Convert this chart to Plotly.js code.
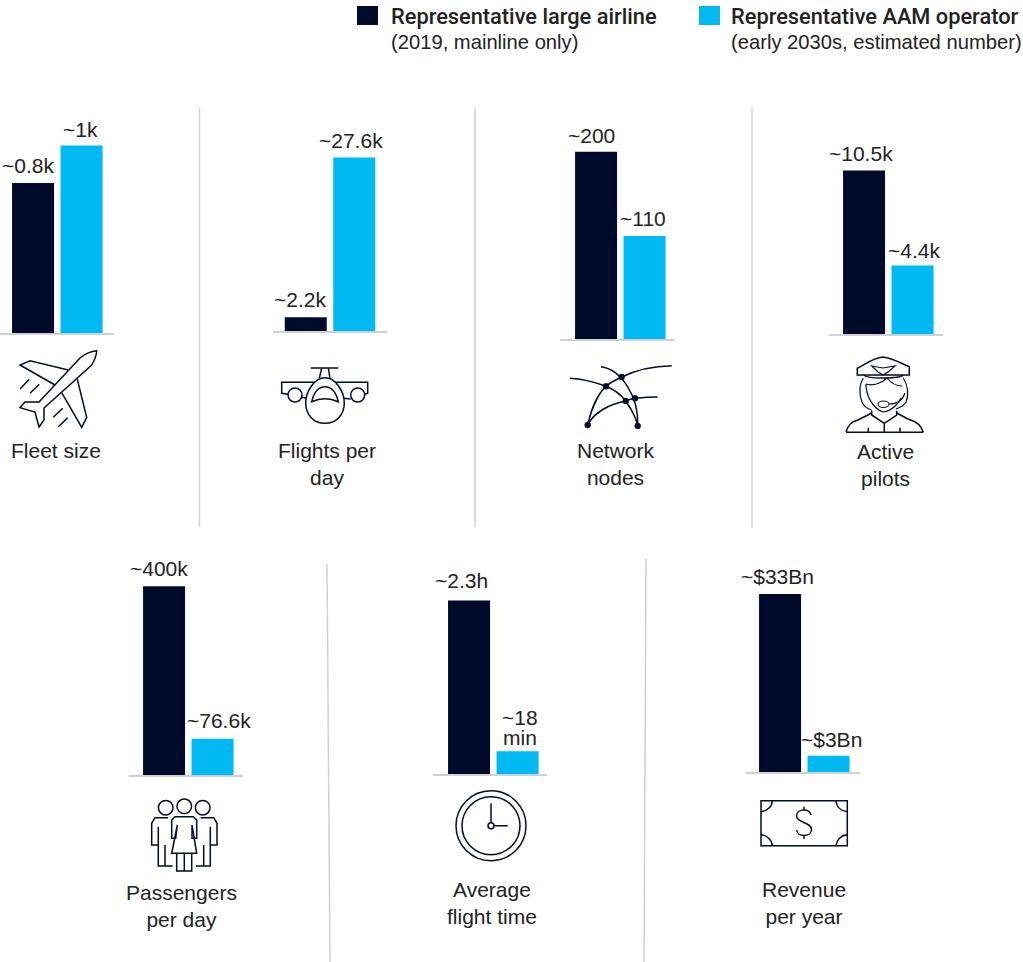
<!DOCTYPE html>
<html><head><meta charset="utf-8">
<script src="https://cdn.plot.ly/plotly-3.0.1.min.js"></script>
<style>html,body{margin:0;padding:0;background:#fff}#c{width:1023px;height:962px}</style></head>
<body><div id="c"></div>
<script>
var W = 1023, H = 962;
var seriesNames = ['Representative large airline', 'Representative AAM operator'];
var categories = ['Fleet size','Flights per<br>day','Network<br>nodes','Active<br>pilots','Passengers<br>per day','Average<br>flight time','Revenue<br>per year'];
var largeAirline = [0.8, 2.2, 200, 10.5, 400, 138, 33];
var aamOperator  = [1, 27.6, 110, 4.4, 76.6, 18, 3];
var largeLabels = ['~0.8k','~2.2k','~200','~10.5k','~400k','~2.3h','~$33Bn'];
var aamLabels   = ['~1k','~27.6k','~110','~4.4k','~76.6k','~18<br>min','~$3Bn'];
var yMax = [1.065, 31.8, 213.5, 12.85, 424, 159, 37.1];
var panelLeft = [0, 273, 560, 829, 129, 433, 746];
var barOffset = [0.3, 0, 3.3, 2.3, 2.3, 3.3, 1.3];
var baseline  = [333.3, 331, 339, 334, 775, 774, 772];
var largeShift = [-5.5,-6,-5,-3,-5,-8,-3];
var aamShift   = [-1,-3,-2,1,6,2,3];
var largeLift = [5,5,4,5,5,7,5];
var aamLift   = [4,4,5,3,6,1,4];
var catCenter = [56,327,616,885,181,492,804];
var catTop    = [451,451,451,452,893,890,890];
var dark='#000b2c', blue='#00b8f2', grey='#cdd1d6', ink='#222';
var font='"Liberation Sans", sans-serif';
var FS=21, PANEL_W=114, PLOT_H=200, UNIT=48.5;

var data=[], layout={width:W,height:H,margin:{l:0,r:0,t:0,b:0,pad:0},paper_bgcolor:'#fff',plot_bgcolor:'rgba(0,0,0,0)',showlegend:false,annotations:[],shapes:[],hovermode:false,bargap:0.134,font:{family:font,color:ink}};
function ann(o){layout.annotations.push(Object.assign({xref:'x8',yref:'y8',showarrow:false,font:{family:font,size:FS,color:ink},borderpad:0},o));}
function valueLabel(txt,i,x,val,shift,lift){
  var ax=i+1, lines=txt.split('<br>');
  lines.forEach(function(l,k){
    layout.annotations.push({xref:'x'+ax,yref:'y'+ax,x:x,y:val,text:l,showarrow:false,xanchor:'center',yanchor:'bottom',xshift:shift,yshift:lift+(lines.length-1-k)*20,font:{family:font,size:FS,color:ink},borderpad:0});
  });
}
categories.forEach(function(c,i){
  var ax=i+1, x0=panelLeft[i], b=baseline[i], off=barOffset[i]/UNIT;
  data.push({type:'bar',x:['Large','AAM'],y:[largeAirline[i],aamOperator[i]],xaxis:'x'+ax,yaxis:'y'+ax,name:c.replace('<br>',' '),
    marker:{color:[dark,blue],line:{width:0}},hoverinfo:'skip',cliponaxis:false});
  layout['xaxis'+ax]={domain:[x0/W,(x0+PANEL_W)/W],anchor:'y'+ax,type:'category',categoryorder:'array',categoryarray:['Large','AAM'],range:[-0.675-off,1.675-off],showgrid:false,zeroline:false,showline:true,linecolor:grey,linewidth:2,ticks:'',showticklabels:false,fixedrange:true};
  layout['yaxis'+ax]={domain:[1-b/H,1-(b-PLOT_H)/H],anchor:'x'+ax,range:[0,yMax[i]],visible:false,fixedrange:true};
  valueLabel(largeLabels[i],i,'Large',largeAirline[i],largeShift[i],largeLift[i]);
  valueLabel(aamLabels[i],i,'AAM',aamOperator[i],aamShift[i],aamLift[i]);
  ann({x:catCenter[i],y:catTop[i]-13,text:c,xanchor:'center',yanchor:'top'});
});
data.push({type:'scatter',x:[0],y:[0],xaxis:'x8',yaxis:'y8',mode:'markers',marker:{opacity:0},hoverinfo:'skip'});
layout.xaxis8={domain:[0,1],range:[0,W],anchor:'y8',visible:false,fixedrange:true};
layout.yaxis8={domain:[0,1],range:[H,0],anchor:'x8',visible:false,fixedrange:true};

function P(d,w,fill){layout.shapes.push({type:'path',xref:'x8',yref:'y8',path:d,line:{color:dark,width:w||1.5},fillcolor:fill||'rgba(0,0,0,0)',layer:'above'});}
function C(x,y,r,fill,w){layout.shapes.push({type:'circle',xref:'x8',yref:'y8',x0:x-r,x1:x+r,y0:y-r,y1:y+r,line:{color:dark,width:w||1.5},fillcolor:fill||'rgba(0,0,0,0)',layer:'above'});}
function R(x0,y0,x1,y1,col){layout.shapes.push({type:'rect',xref:'x8',yref:'y8',x0:x0,x1:x1,y0:y0,y1:y1,line:{width:0},fillcolor:col});}
function L(x0,y0,x1,y1){layout.shapes.push({type:'line',xref:'x8',yref:'y8',x0:x0,x1:x1,y0:y0,y1:y1,line:{color:grey,width:1.5}});}

// legend
R(357,6,378,25,dark); R(699,6,720,25,blue);
var legendBold={family:'Roboto, "Liberation Sans", sans-serif',size:21.8,color:ink,weight:500};
var legendReg={family:font,size:20.2,color:ink};
ann({x:390,y:16,text:seriesNames[0],xanchor:'left',yanchor:'middle',font:legendBold});
ann({x:390,y:42,text:'(2019, mainline only)',xanchor:'left',yanchor:'middle',font:legendReg});
ann({x:730,y:16,text:seriesNames[1],xanchor:'left',yanchor:'middle',font:legendBold});
ann({x:730,y:42,text:'(early 2030s, estimated number)',xanchor:'left',yanchor:'middle',font:legendReg});

// dividers
L(199.5,108,199.5,527); L(475,108,475,527); L(752,108,752,528);
L(327,564,330,962); L(646,559,644,962);

// airplane
P('M96.7,350.7 C92,351 86,353 80,358 L39,402 L25,402 L20,407.7 L35,412 L39,427 L44,420 L44,408 L91.7,365 C94,361 96.5,356 96.7,350.7 Z');
P('M68.3,370 L30,360.7 L20,365 L55,385');
P('M77.3,379.3 L86.7,417.3 L81.7,427.3 L61.7,392.7');
P('M20,389 L29.3,379.3 M30,393.3 L39.3,384.3 M53.3,417.3 L62.7,408.3 M58.3,426.7 L67.7,417.7');
// front plane
P('M310.7,368 L338.3,368 M321.7,368 L319.3,378.3 M328.3,368 L330,378.3');
P('M325,377.7 C314,377.7 305.7,392 305.7,403 C305.7,415 314,423.3 325,423.3 C336,423.3 344.3,415 344.3,403 C344.3,392 336,377.7 325,377.7 Z');
P('M315,382.3 L281.7,382.3 L281.7,393.3 L288.3,394.3 M335,382.3 L367.7,382.3 L367.7,393.3 L364.5,394.3');
C(295,395,7); C(357.7,395,7);
P('M301.7,397.3 L306.7,398.3 M350.7,399 L343.3,398.3');
P('M311.7,401.7 C314,392 319,386.7 325,386.7 C331,386.7 336,392 338.3,401.7 C330,398 320,398 311.7,401.7 Z');
// network
P('M601,366.7 C620,369 639,395 637.7,426');
P('M587.7,425 C592,405 600,392 606,386.3 C612,381 618,379 621.7,377 C638,369 655,366 671.7,365.7');
P('M570,378.3 C585,379 597,383 606,386.3 C615,390 622,396 625.7,401 C631,409 636,416 637.7,426');
P('M587.7,425 C594,412 610,404 625.7,401 C630,399 632,398.6 635,398.3 C643,397.5 650,397 657.7,397');
[[587.7,425],[637.7,426],[625.7,401],[635,398.3],[606,386.3],[621.7,377]].forEach(function(p){C(p[0],p[1],3,dark,0.5);});
// pilot
P('M857.3,368.3 C865,365 872,358 883,357 C893,358 902,364 909.3,366.7 L909.3,375 L857.3,375 Z');
P('M864,375 C866,379 900,379 903,375');
P('M871.7,366 L883,368 L895,366 L888,372 L883,375 L878,372 Z',1.2);
P('M863.3,378.3 C859,385 859,395 862,402 C864,407 868,409 871.7,410 M903.3,378 C908,385 909,395 906,402 C904,406 899,408 896,409',1.2);
P('M866,384 C872,386 881,384 887,378 C891,383 897,386 902,386 M866,384 C866,395 872,408 883,412 C892,411 899,403 901,398',1.2);
P('M905,393 C903,399 898,404 889,404',1.1);
layout.shapes.push({type:'circle',xref:'x8',yref:'y8',x0:878,x1:889,y0:401,y1:407.5,line:{color:dark,width:1.1},fillcolor:'rgba(0,0,0,0)',layer:'above'});
P('M871.7,410.7 L871.7,415 L884.3,423.3 L896.7,415 L896.7,410.7 M884.3,423.3 L884.3,432.3');
P('M846,432.3 C848,424 853,421 858,420 L871.7,413 M923.3,432.3 C921,424 915,421 908,419 L896.7,413 M846,432.3 L923.3,432.3 M868.3,427.7 L868.3,432.3 M900,427.7 L900,432.3');
// people
C(165.7,807.7,7.3); C(184.3,806.3,7.3); C(202.7,807.7,7.3);
P('M168,817.7 L155,817.7 L151.7,823.3 L151.7,845 L158.3,845 M158.3,826.7 L158.3,866 L172.7,866 M165,845 L165,866');
P('M200.6,817.7 L213.7,817.7 L217,823.3 L217,845 L210.3,845 M210.3,826.7 L210.3,866 L196,866 M203.7,845 L203.7,866');
P('M175,816.7 L193.3,816.7 L196.7,820 L196.7,838.3 L192,838.3 L192,825 L196.7,853.3 L171.7,853.3 L177.3,825 L175.7,838.3 L171.7,838.3 L171.7,820 Z');
P('M176.7,853.3 L176.7,871 L191.7,871 L191.7,853.3 M184.3,853.3 L184.3,871');
// clock
C(491,825.7,35); C(491,825.7,29); C(491,825.7,3);
P('M491,803.3 L491,822.7 M494,825.7 L507.7,825.7');
// banknote
P('M761,800.7 L847.3,800.7 L847.3,845.7 L761,845.7 Z');
P('M761,811.7 C767,811 772,807 772.3,800.7 M836,800.7 C836.5,807 841,811 847.3,811.7 M761,834.7 C767,835 772,840 772.3,845.7 M836,845.7 C836.5,840 841,835 847.3,834.7');
P('M811,815 C810,811 807,810 804,810 C800,810 796.5,812 796.5,816 C796.5,823 811.5,822 811.5,829.5 C811.5,833.5 808,835.5 804,835.5 C800,835.5 797,833 796.5,830 M804,806.7 L804,810 M804,835.5 L804,839');

Plotly.newPlot('c',data,layout,{displayModeBar:false,staticPlot:true});
</script></body></html>
